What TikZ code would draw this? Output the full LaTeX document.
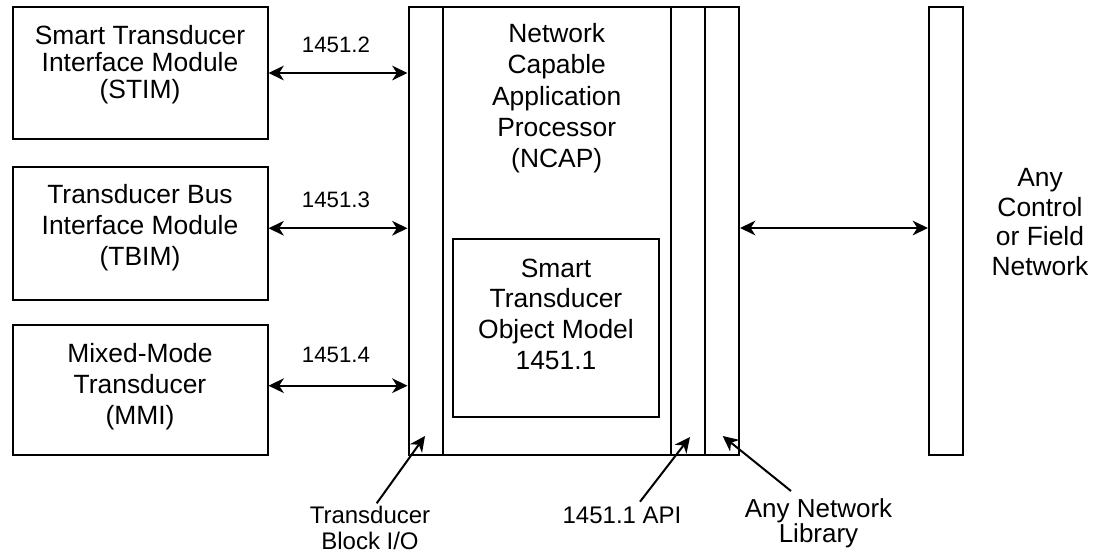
\documentclass[tikz,border=0pt]{standalone}
\usepackage{fontspec}
\setmainfont{Liberation Sans}
\usetikzlibrary{arrows.meta,fit,calc}

\begin{document}
\begin{tikzpicture}[x=0.75pt, y=-0.75pt,
  box/.style={draw, line width=1.5pt, inner sep=0pt},
  dbl/.style={{Stealth[length=11.5pt, width=11pt, inset=3.5pt]}-{Stealth[length=11.5pt, width=11pt, inset=3.5pt]}, line width=1.5pt},
  ptr/.style={-{Stealth[length=11.5pt, width=11pt, inset=3.5pt]}, line width=1.5pt},
  txt/.style={align=center, inner sep=0pt, anchor=north},
  big/.style={txt, font=\fontsize{19.8pt}{23.1pt}\selectfont},
  lbl/.style={txt, font=\fontsize{16.7pt}{20pt}\selectfont},
  small/.style={txt, font=\fontsize{18pt}{19.5pt}\selectfont}]

\useasboundingbox (0,0) rectangle (1095,554);

% transducer modules
\node[box, fit={(12.5,7) (267.5,139)}] (stim) {};
\node[box, fit={(12.5,167) (267.5,299.5)}] (tbim) {};
\node[box, fit={(12.5,325) (267.5,455)}] (mmi) {};

% NCAP and its layers
\node[box, fit={(408.5,7) (443,455)}] (tbio) {};
\node[box, fit={(443,7) (671,455)}] (ncap) {};
\node[box, fit={(671,7) (705,455)}] (api) {};
\node[box, fit={(705,7) (739,455)}] (netlib) {};
\node[box, fit={(453,239) (659,417)}] (stom) {};

% field network
\node[box, fit={(929,7) (963,455)}] (field) {};

% texts
\node[big, font=\fontsize{19.8pt}{20.4pt}\selectfont] (stimtxt) at (140,25) {Smart Transducer\\Interface Module\\(STIM)};
\node[big] (tbimtxt) at (140,184.3) {Transducer Bus\\Interface Module\\(TBIM)};
\node[big] (mmitxt) at (140,343.3) {Mixed-Mode\\Transducer\\(MMI)};
\node[big, font=\fontsize{19.8pt}{23.4pt}\selectfont] (ncaptxt) at (556.7,23.3) {Network\\Capable\\Application\\Processor\\(NCAP)};
\node[big] (stomtxt) at (556,258.3) {Smart\\Transducer\\Object Model\\1451.1};
\node[big, font=\fontsize{19.8pt}{22.2pt}\selectfont] (fieldtxt) at (1040,168.3) {Any\\Control\\or Field\\Network};

\node[lbl] (l2) at (336,36.7) {1451.2};
\node[lbl] (l3) at (336,191.7) {1451.3};
\node[lbl] (l4) at (336,346.7) {1451.4};

\node[small] (tbiolbl) at (370,505.5) {Transducer\\Block I/O};
\node[small] (apilbl) at (622,506.7) {1451.1 API};
\node[txt, font=\fontsize{19.5pt}{17.5pt}\selectfont] (netlbl) at (818.5,498.3) {Any Network\\Library};

% interface links
\draw[dbl] (stim.east) -- (stim.east -| tbio.west);
\draw[dbl] ($(tbim.east)+(0,-5)$) -- ($(tbim.east -| tbio.west)+(0,-5)$);
\draw[dbl] ($(mmi.east)+(0,-4.3)$) -- ($(mmi.east -| tbio.west)+(0,-4.3)$);
\draw[dbl] ($(netlib.east)+(0,-3)$) -- ($(netlib.east -| field.west)+(0,-3)$);

% layer callouts
\coordinate (tbiotip) at (425,436);
\coordinate (apitip) at (690,437);
\coordinate (libtip) at (722.7,436);
\draw[ptr] ($(tbiolbl.north)+(6.7,-2.2)$) -- (tbiotip);
\draw[ptr] ($(apilbl.north)+(18,-5)$) -- (apitip);
\draw[ptr] ($(netlbl.north)+(-27.5,-7.3)$) -- (libtip);
\end{tikzpicture}
\end{document}
